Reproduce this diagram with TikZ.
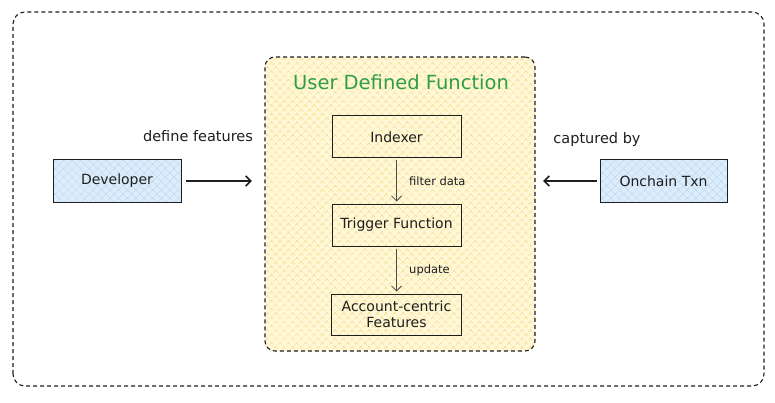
\documentclass[tikz,border=0pt]{standalone}
\usepackage{fontspec}
\setmainfont{DejaVu Sans}
\usetikzlibrary{arrows.meta,positioning,patterns.meta}

\definecolor{inkblack}{HTML}{1E1E1E}
\definecolor{udfgreen}{HTML}{2F9E44}
\definecolor{udfyellow}{HTML}{FFF7D6}
\definecolor{hatchyellow}{HTML}{F3DF8E}
\definecolor{actorblue}{HTML}{DDECFA}
\definecolor{hatchblue}{HTML}{B5D4F0}

\tikzset{
  stepbox/.style={draw=inkblack, line width=1pt, minimum width=129pt, minimum height=42pt,
    align=center, text=inkblack, font=\fontsize{14}{16}\selectfont},
  actor/.style={stepbox, minimum width=128pt, minimum height=43pt,
    preaction={fill=actorblue}, pattern={Hatch[angle=45,distance=6pt,line width=0.3pt]}, pattern color=hatchblue},
  udfbox/.style={draw=inkblack, line width=1.1pt, dash pattern=on 4pt off 3pt, rounded corners=10pt,
    preaction={fill=udfyellow}, pattern={Hatch[angle=45,distance=6pt,line width=0.45pt]}, pattern color=hatchyellow},
  flowlabel/.style={text=inkblack, font=\fontsize{14.5}{16}\selectfont},
  smalllabel/.style={text=inkblack, font=\fontsize{11.5}{13}\selectfont}
}

\begin{document}
\begin{tikzpicture}[x=1pt, y=1pt, >={Straight Barb[length=5pt,width=10pt]}]
  \useasboundingbox (0,0) rectangle (775,402);
  % outer frame
  \draw[inkblack, line width=1.1pt, dash pattern=on 4pt off 3pt, rounded corners=12pt]
    (13,16) rectangle (764,390);

  \node[udfbox, minimum width=270pt, minimum height=294pt] (udf) at (400,198) {};
  \node[text=udfgreen, font=\fontsize{19.5}{22}\selectfont] (udftitle) at (401,320) {User Defined Function};

  \node[stepbox]         (indexer) at (396.5,265)         {Indexer};
  \node[stepbox]         (trigger) [below=45pt of indexer] {Trigger Function};
  \node[stepbox, minimum width=130pt, minimum height=41pt, inner sep=2pt]
                         (features) [below=47pt of trigger] {Account-centric\\Features};

  \node[actor]           (dev) at (117,221)               {Developer};
  \node[actor, minimum width=127pt, minimum height=42pt]
                         (txn) at (663.5,221)             {Onchain Txn};

  \node[flowlabel]       (definelbl) at (198,266)         {define features};
  \node[flowlabel]       (capturedlbl) at (597,263)       {captured by};

  \path[->, draw=inkblack!80, line width=0.8pt, shorten <=2pt, shorten >=2pt]
    (indexer) edge node[smalllabel, right=9pt] {filter data} (trigger)
    (trigger) edge node[smalllabel, right=9pt] {update}      (features);

  \path[->, draw=inkblack, line width=1.5pt]
    (dev) edge[shorten <=5pt, shorten >=13pt] (dev -| udf.west)
    (txn) edge[shorten <=3pt, shorten >=8pt]  (txn -| udf.east);
\end{tikzpicture}
\end{document}
